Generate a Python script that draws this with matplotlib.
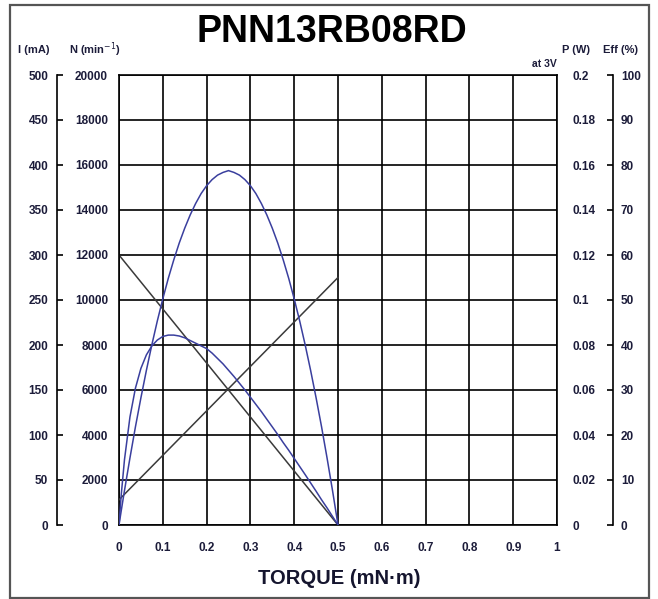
import numpy as np
import matplotlib
matplotlib.use("Agg")
import matplotlib.pyplot as plt
from matplotlib.patches import Rectangle

plt.rcParams['font.family'] = ['Liberation Sans', 'DejaVu Sans']

# values
torque_lin = [0, 0.5]
speed_rpm = [12000, 0]          # N (min^-1)
current_ma = [28, 275]          # I (mA)

torque_pts = [0, 0.005, 0.0125, 0.025, 0.0375, 0.05, 0.0625, 0.075, 0.0875, 0.1,
              0.1125, 0.125, 0.1375, 0.15, 0.1625, 0.175, 0.1875, 0.2, 0.2125, 0.225,
              0.2375, 0.25, 0.2625, 0.275, 0.2875, 0.3, 0.3125, 0.325, 0.3375, 0.35,
              0.3625, 0.375, 0.3875, 0.4, 0.4125, 0.425, 0.4375, 0.45, 0.4625, 0.475,
              0.4875, 0.5]
power_w = [0, 0.0062, 0.0153, 0.0298, 0.0436, 0.0565, 0.0687, 0.0801, 0.0907, 0.1005,
           0.1096, 0.1178, 0.1253, 0.1319, 0.1378, 0.1429, 0.1473, 0.1508, 0.1535, 0.1555,
           0.1567, 0.1575, 0.1567, 0.1555, 0.1535, 0.1508, 0.1473, 0.1429, 0.1378, 0.1319,
           0.1253, 0.1178, 0.1096, 0.1005, 0.0907, 0.0801, 0.0687, 0.0565, 0.0436, 0.0298,
           0.0153, 0]
eff_pct = [0, 6.6, 14.5, 24.0, 30.4, 34.8, 37.8, 39.8, 41.1, 41.9,
           42.2, 42.2, 42.0, 41.6, 41.0, 40.4, 39.8, 39.2, 38.2, 37.0,
           35.8, 34.4, 33.0, 31.5, 30.0, 28.4, 26.8, 25.2, 23.5, 21.8,
           20.1, 18.3, 16.6, 14.8, 13.0, 11.2, 9.35, 7.5, 5.6, 3.8,
           1.9, 0]

x_ticks = [0, 0.1, 0.2, 0.3, 0.4, 0.5, 0.6, 0.7, 0.8, 0.9, 1]
x_labels = ['0', '0.1', '0.2', '0.3', '0.4', '0.5', '0.6', '0.7', '0.8', '0.9', '1']
i_ticks = list(range(0, 501, 50))
n_ticks = list(range(0, 20001, 2000))
p_ticks = [0, 0.02, 0.04, 0.06, 0.08, 0.1, 0.12, 0.14, 0.16, 0.18, 0.2]
p_labels = ['0', '0.02', '0.04', '0.06', '0.08', '0.1', '0.12', '0.14', '0.16', '0.18', '0.2']
e_ticks = list(range(0, 101, 10))

txt = '#1c1c3a'
blue = '#3a3f9e'
dark = '#3a3a3a'
fs = 8.5

fig = plt.figure(figsize=(6.58, 5.99), dpi=100)
ax = fig.add_axes([119/658, 74/599, 438/658, 450/599])

# main axes carries the grid and the N labels
ax.set_xlim(0, 1)
ax.set_ylim(0, 20000)
ax.set_xticks(x_ticks)
ax.set_xticklabels(x_labels)
ax.set_yticks(n_ticks)
ax.set_yticklabels([str(v) for v in n_ticks])
ax.grid(True, color='black', lw=1.2)
for s in ax.spines.values():
    s.set_color('black')
    s.set_linewidth(1.2)
ax.tick_params(axis='x', length=0, pad=12, labelsize=fs, labelcolor=txt)
ax.tick_params(axis='y', length=0, pad=8, labelsize=fs, labelcolor=txt)
for lab in ax.get_xticklabels() + ax.get_yticklabels():
    lab.set_fontweight('bold')
ax.plot(torque_lin, speed_rpm, color=dark, lw=1.1)

# current axis (left bracket)
ax_i = ax.twinx()
ax_i.set_ylim(0, 500)
ax_i.yaxis.tick_left()
ax_i.spines['left'].set_position(('outward', 45))
ax_i.spines['left'].set_linewidth(1.2)
for k in ['right', 'top', 'bottom']:
    ax_i.spines[k].set_visible(False)
ax_i.set_yticks(i_ticks)
ax_i.set_yticklabels([str(v) for v in i_ticks])
ax_i.tick_params(axis='y', direction='in', length=4, width=1.2, pad=6, labelsize=fs, labelcolor=txt)
for lab in ax_i.get_yticklabels():
    lab.set_fontweight('bold')
ax_i.plot(torque_lin, current_ma, color=dark, lw=1.1)

# power axis (labels only)
ax_p = ax.twinx()
ax_p.set_ylim(0, 0.2)
for s in ax_p.spines.values():
    s.set_visible(False)
ax_p.set_yticks(p_ticks)
ax_p.set_yticklabels(p_labels)
ax_p.tick_params(axis='y', length=0, pad=11, labelsize=fs, labelcolor=txt)
for lab in ax_p.get_yticklabels():
    lab.set_fontweight('bold')
ax_p.plot(torque_pts, power_w, color=blue, lw=1.1)

# efficiency axis (right bracket)
ax_e = ax.twinx()
ax_e.set_ylim(0, 100)
ax_e.spines['right'].set_position(('outward', 40))
ax_e.spines['right'].set_linewidth(1.2)
for k in ['left', 'top', 'bottom']:
    ax_e.spines[k].set_visible(False)
ax_e.set_yticks(e_ticks)
ax_e.set_yticklabels([str(v) for v in e_ticks])
ax_e.tick_params(axis='y', direction='in', length=4, width=1.2, pad=6, labelsize=fs, labelcolor=txt)
for lab in ax_e.get_yticklabels():
    lab.set_fontweight('bold')
ax_e.plot(torque_pts, eff_pct, color=blue, lw=1.1)

# headers
fig.text(332/658, 1 - 32/599, 'PNN13RB08RD', ha='center', va='center',
         fontsize=27, fontweight='bold', color='black')
fig.text(18/658, 1 - 50/599, 'I (mA)', ha='left', va='center', fontsize=fs - 0.5, fontweight='bold', color=txt)
fig.text(69/658, 1 - 50/599, 'N (min$^{-1}$)', ha='left', va='center', fontsize=fs - 0.5, fontweight='bold', color=txt)
fig.text(562/658, 1 - 50/599, 'P (W)', ha='left', va='center', fontsize=fs - 0.5, fontweight='bold', color=txt)
fig.text(603/658, 1 - 50/599, 'Eff (%)', ha='left', va='center', fontsize=fs - 0.5, fontweight='bold', color=txt)
fig.text(557/658, 1 - 64/599, 'at 3V', ha='right', va='center', fontsize=fs - 1, fontweight='bold', color=txt)
fig.text(339/658, 1 - 579/599, 'TORQUE (mN\u00b7m)', ha='center', va='center',
         fontsize=14.5, fontweight='bold', color='#15152e')

fig.patches.append(Rectangle((10/658, 1 - 598/599), 639/658, 593/599, transform=fig.transFigure,
                             fill=False, ec='#555555', lw=1.6))

fig.savefig('out.png', dpi=100)
